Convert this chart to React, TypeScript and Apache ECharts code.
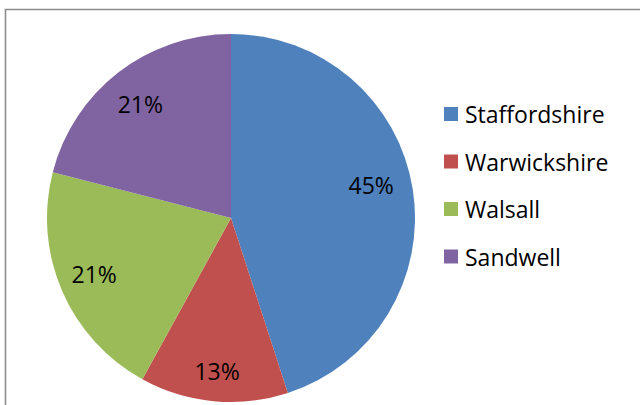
import React, { useEffect, useRef } from "react";
import * as echarts from "echarts";

const categories = ["Staffordshire", "Warwickshire", "Walsall", "Sandwell"];
const values = [45, 13, 21, 21];
const colors = ["#4F81BD", "#C0504D", "#9BBB59", "#8064A2"];

export default function App() {
  const ref = useRef<HTMLDivElement>(null);
  useEffect(() => {
    if (!ref.current) return;
    const chart = echarts.init(ref.current, undefined, { renderer: "svg" });
    const font = "'Open Sans', 'Noto Sans', sans-serif";
    const labelOffsets: Record<string, number[]> = {
      Staffordshire: [-6, -10],
      Warwickshire: [0, 6],
      Walsall: [-1, -3],
      Sandwell: [0, 3],
    };
    chart.setOption({
      animation: false,
      backgroundColor: "#ffffff",
      graphic: [
        {
          type: "rect",
          shape: { x: 5.5, y: 9.5, width: 700, height: 500 },
          style: { fill: "none", stroke: "#8c8c8c", lineWidth: 1.6 },
          silent: true,
          z: 0,
        },
      ],
      legend: {
        orient: "vertical",
        left: 444,
        top: 102,
        padding: 0,
        itemWidth: 14,
        itemHeight: 14,
        itemGap: 23.5,
        icon: "rect",
        selectedMode: false,
        textStyle: {
          fontFamily: font,
          fontSize: 23,
          color: "#000",
          lineHeight: 24,
          padding: [0, 0, 0, 2],
        },
        data: categories.map((name, i) => ({
          name,
          itemStyle: { color: colors[i] },
        })),
      },
      series: [
        {
          type: "pie",
          center: [231, 218],
          radius: [0, 184],
          startAngle: 90,
          clockwise: true,
          silent: true,
          label: { show: false },
          labelLine: { show: false },
          itemStyle: { borderWidth: 0 },
          data: categories.map((name, i) => ({
            name,
            value: values[i],
            itemStyle: { color: colors[i] },
          })),
        },
        {
          type: "pie",
          center: [231, 218],
          radius: [106, 184],
          startAngle: 90,
          clockwise: true,
          silent: true,
          itemStyle: { color: "rgba(0,0,0,0)", borderWidth: 0 },
          labelLine: { show: false },
          label: {
            show: true,
            position: "inside",
            formatter: (p: any) => `${p.value}%`,
            fontFamily: font,
            fontSize: 23,
            color: "#000",
          },
          data: categories.map((name, i) => ({
            name,
            value: values[i],
            label: labelOffsets[name] ? { offset: labelOffsets[name] } : undefined,
          })),
        },
      ],
    });
    return () => chart.dispose();
  }, []);
  return (
    <div
      ref={ref}
      style={{ position: "fixed", left: 0, top: 0, width: 640, height: 405 }}
    />
  );
}
